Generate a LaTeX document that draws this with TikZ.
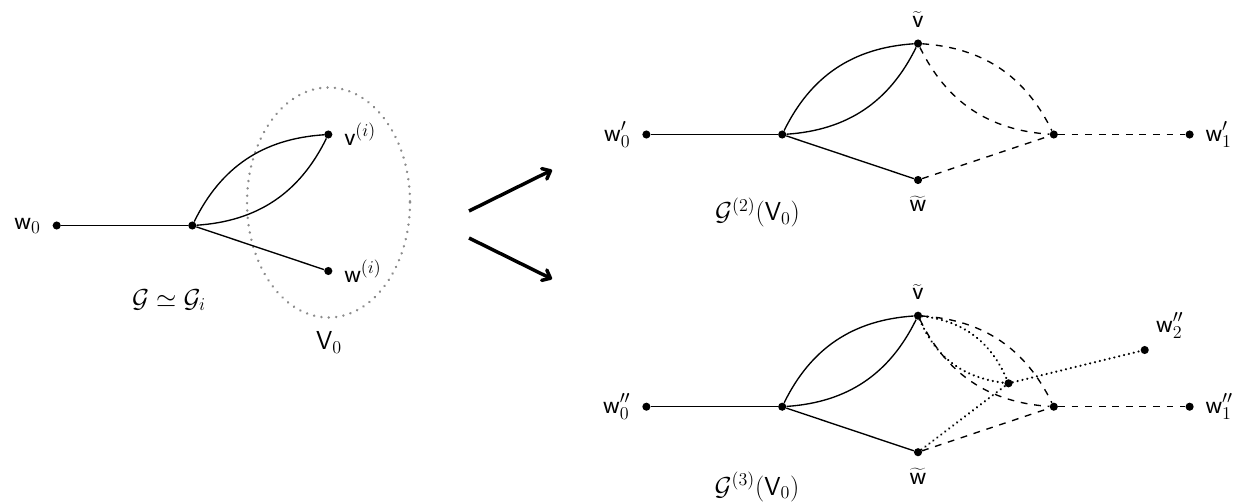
\documentclass[tikz,border=0pt]{standalone}
\usepackage{fontspec}
\usetikzlibrary{arrows.meta}
\begin{document}
\begin{tikzpicture}[x=0.6646pt,y=-0.6646pt,font=\LARGE,
  dot/.style={circle,fill,inner sep=0pt,minimum size=5.4pt},
  edge/.style={line width=0.9pt},
  dashedge/.style={line width=0.9pt,dash pattern=on 4.5pt off 4.5pt},
  dotedge/.style={line width=1.6pt,dash pattern=on 0.01pt off 3.3pt,line cap=round},
  ellipsedots/.style={line width=1.8pt,black!45,dash pattern=on 0.01pt off 4.9pt,line cap=round},
  bigarrow/.style={line width=2.3pt,-{Straight Barb[angle=80:6pt,round]}},
  every label/.style={inner sep=0pt},
  label distance=7.5pt,
  txt/.style={inner sep=0pt,anchor=base}]
\useasboundingbox (0,0) rectangle (1246,501);

% ---------- left graph ----------
\draw[ellipsedots] (328.5,202.5) ellipse [x radius=81.5,y radius=115];
\node[dot,label=left:{$\mathsf{w}_0$}] (w0) at (56.7,225.5) {};
\node[dot] (c) at (192.3,225.5) {};
\node[dot,label=right:{$\mathsf{v}^{(i)}$}] (v) at (328.3,134.5) {};
\node[dot,label=right:{$\mathsf{w}^{(i)}$}] (w) at (328.3,271) {};
\draw[edge] (w0) -- (c);
\draw[edge] (c) to[bend left=30] (v);
\draw[edge] (c) to[bend right=30] (v);
\draw[edge] (c) -- (w);
\node[txt] (G) at (169,307) {$\mathcal{G}\simeq\mathcal{G}_i$};
\node[txt] (V0) at (329,349.3) {$\mathsf{V}_0$};

% ---------- arrows ----------
\coordinate (a1s) at (469,211);
\coordinate (a1e) at (552,170);
\coordinate (a2s) at (469,238);
\coordinate (a2e) at (552,279);
\draw[bigarrow] (a1s) -- (a1e);
\draw[bigarrow] (a2s) -- (a2e);

% ---------- top right graph ----------
\node[dot,label=left:{$\mathsf{w}'_0$}] (tw0) at (646.4,134.5) {};
\node[dot] (tc) at (782.2,134.5) {};
\node[dot,label=above:{$\widetilde{\mathsf{v}}$}] (tv) at (918,43.5) {};
\node[dot,label=below:{$\widetilde{\mathsf{w}}$}] (tw) at (918,180) {};
\node[dot] (tm) at (1053.8,134.5) {};
\node[dot,label=right:{$\mathsf{w}'_1$}] (tw1) at (1189.6,134.5) {};
\draw[edge] (tw0) -- (tc);
\draw[edge] (tc) to[bend left=30] (tv);
\draw[edge] (tc) to[bend right=30] (tv);
\draw[edge] (tc) -- (tw);
\draw[dashedge] (tv) to[bend left=30] (tm);
\draw[dashedge] (tv) to[bend right=30] (tm);
\draw[dashedge] (tw) -- (tm);
\draw[dashedge] (tm) -- (tw1);
\node[txt] (G2) at (757.5,220.5) {$\mathcal{G}^{(2)}(\mathsf{V}_0)$};

% ---------- bottom right graph ----------
\node[dot,label=left:{$\mathsf{w}''_0$}] (bw0) at (646.4,406.7) {};
\node[dot] (bc) at (782.2,406.7) {};
\node[dot,label=above:{$\widetilde{\mathsf{v}}$}] (bv) at (918,315.7) {};
\node[dot,label=below:{$\widetilde{\mathsf{w}}$}] (bw) at (918,452.2) {};
\node[dot] (bm) at (1053.8,406.7) {};
\node[dot,label=right:{$\mathsf{w}''_1$}] (bw1) at (1189.6,406.7) {};
\node[dot] (bx) at (1008.5,383.3) {};
\node[dot,label={[anchor=south west]45:{$\mathsf{w}''_2$}}] (bw2) at (1144.7,350) {};
\draw[edge] (bw0) -- (bc);
\draw[edge] (bc) to[bend left=30] (bv);
\draw[edge] (bc) to[bend right=30] (bv);
\draw[edge] (bc) -- (bw);
\draw[dashedge] (bv) to[bend left=30] (bm);
\draw[dashedge] (bv) to[bend right=30] (bm);
\draw[dashedge] (bw) -- (bm);
\draw[dashedge] (bm) -- (bw1);
\draw[dotedge] (bv) to[bend left=30] (bx);
\draw[dotedge] (bv) to[bend right=30] (bx);
\draw[dotedge] (bw) -- (bx);
\draw[dotedge] (bx) -- (bw2);
\node[txt] (G3) at (757,495) {$\mathcal{G}^{(3)}(\mathsf{V}_0)$};
\end{tikzpicture}
\end{document}
